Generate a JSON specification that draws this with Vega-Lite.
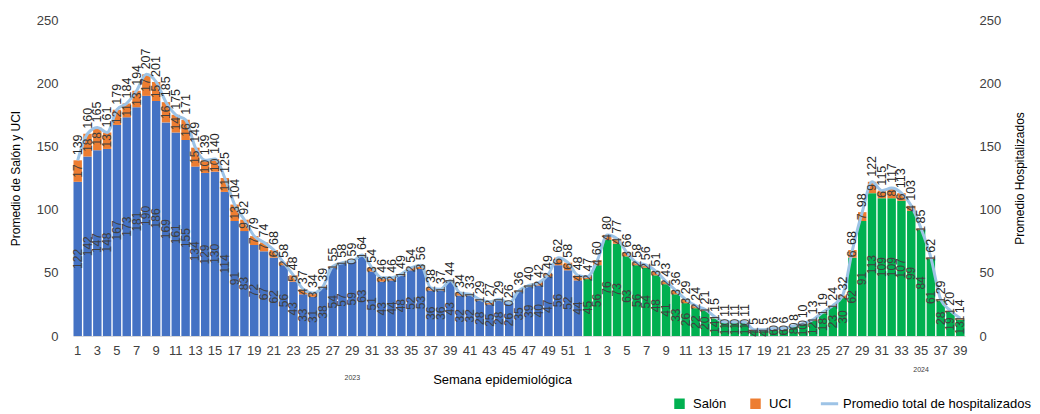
{
  "$schema": "https://vega.github.io/schema/vega-lite/v6.json",
  "width": 892,
  "height": 316,
  "autosize": "none",
  "padding": {"left": 73, "top": 20, "right": 75, "bottom": 78},
  "config": {
    "font": "Liberation Sans",
    "view": {"stroke": null},
    "axis": {"grid": false, "ticks": false, "domain": false, "labelColor": "#404040", "labelFontSize": 13, "titleFontSize": 12, "titleFontWeight": "normal", "titleColor": "#000000"},
    "text": {"font": "Liberation Sans"}
  },
  "data": {"values": [
    {"sem":"2023-01","anio":"2023","salon":122,"uci":17,"total":139},
    {"sem":"2023-02","anio":"2023","salon":142,"uci":18,"total":160},
    {"sem":"2023-03","anio":"2023","salon":147,"uci":18,"total":165},
    {"sem":"2023-04","anio":"2023","salon":148,"uci":13,"total":161},
    {"sem":"2023-05","anio":"2023","salon":167,"uci":12,"total":179},
    {"sem":"2023-06","anio":"2023","salon":173,"uci":11,"total":184},
    {"sem":"2023-07","anio":"2023","salon":181,"uci":13,"total":194},
    {"sem":"2023-08","anio":"2023","salon":190,"uci":17,"total":207},
    {"sem":"2023-09","anio":"2023","salon":186,"uci":15,"total":201},
    {"sem":"2023-10","anio":"2023","salon":169,"uci":16,"total":185},
    {"sem":"2023-11","anio":"2023","salon":161,"uci":14,"total":175},
    {"sem":"2023-12","anio":"2023","salon":155,"uci":16,"total":171},
    {"sem":"2023-13","anio":"2023","salon":134,"uci":15,"total":149},
    {"sem":"2023-14","anio":"2023","salon":129,"uci":10,"total":139},
    {"sem":"2023-15","anio":"2023","salon":130,"uci":10,"total":140},
    {"sem":"2023-16","anio":"2023","salon":114,"uci":11,"total":125},
    {"sem":"2023-17","anio":"2023","salon":91,"uci":13,"total":104},
    {"sem":"2023-18","anio":"2023","salon":83,"uci":9,"total":92},
    {"sem":"2023-19","anio":"2023","salon":72,"uci":7,"total":79},
    {"sem":"2023-20","anio":"2023","salon":67,"uci":7,"total":74},
    {"sem":"2023-21","anio":"2023","salon":62,"uci":6,"total":68},
    {"sem":"2023-22","anio":"2023","salon":56,"uci":2,"total":58},
    {"sem":"2023-23","anio":"2023","salon":43,"uci":5,"total":48},
    {"sem":"2023-24","anio":"2023","salon":33,"uci":4,"total":37},
    {"sem":"2023-25","anio":"2023","salon":31,"uci":3,"total":34},
    {"sem":"2023-26","anio":"2023","salon":38,"uci":1,"total":39},
    {"sem":"2023-27","anio":"2023","salon":54,"uci":1,"total":55},
    {"sem":"2023-28","anio":"2023","salon":57,"uci":1,"total":58},
    {"sem":"2023-29","anio":"2023","salon":59,"uci":0,"total":59},
    {"sem":"2023-30","anio":"2023","salon":63,"uci":1,"total":64},
    {"sem":"2023-31","anio":"2023","salon":51,"uci":3,"total":54},
    {"sem":"2023-32","anio":"2023","salon":43,"uci":3,"total":46},
    {"sem":"2023-33","anio":"2023","salon":44,"uci":2,"total":46},
    {"sem":"2023-34","anio":"2023","salon":48,"uci":1,"total":49},
    {"sem":"2023-35","anio":"2023","salon":52,"uci":2,"total":54},
    {"sem":"2023-36","anio":"2023","salon":53,"uci":3,"total":56},
    {"sem":"2023-37","anio":"2023","salon":36,"uci":2,"total":38},
    {"sem":"2023-38","anio":"2023","salon":36,"uci":1,"total":37},
    {"sem":"2023-39","anio":"2023","salon":43,"uci":1,"total":44},
    {"sem":"2023-40","anio":"2023","salon":32,"uci":2,"total":34},
    {"sem":"2023-41","anio":"2023","salon":32,"uci":1,"total":33},
    {"sem":"2023-42","anio":"2023","salon":28,"uci":1,"total":29},
    {"sem":"2023-43","anio":"2023","salon":25,"uci":2,"total":27},
    {"sem":"2023-44","anio":"2023","salon":28,"uci":1,"total":29},
    {"sem":"2023-45","anio":"2023","salon":26,"uci":0,"total":26},
    {"sem":"2023-46","anio":"2023","salon":35,"uci":1,"total":36},
    {"sem":"2023-47","anio":"2023","salon":39,"uci":1,"total":40},
    {"sem":"2023-48","anio":"2023","salon":40,"uci":2,"total":42},
    {"sem":"2023-49","anio":"2023","salon":47,"uci":2,"total":49},
    {"sem":"2023-50","anio":"2023","salon":56,"uci":6,"total":62},
    {"sem":"2023-51","anio":"2023","salon":52,"uci":6,"total":58},
    {"sem":"2023-52","anio":"2023","salon":44,"uci":4,"total":48},
    {"sem":"2024-01","anio":"2024","salon":45,"uci":2,"total":47},
    {"sem":"2024-02","anio":"2024","salon":56,"uci":4,"total":60},
    {"sem":"2024-03","anio":"2024","salon":76,"uci":4,"total":80},
    {"sem":"2024-04","anio":"2024","salon":73,"uci":4,"total":77},
    {"sem":"2024-05","anio":"2024","salon":63,"uci":3,"total":66},
    {"sem":"2024-06","anio":"2024","salon":56,"uci":2,"total":58},
    {"sem":"2024-07","anio":"2024","salon":54,"uci":2,"total":56},
    {"sem":"2024-08","anio":"2024","salon":48,"uci":3,"total":51},
    {"sem":"2024-09","anio":"2024","salon":41,"uci":2,"total":43},
    {"sem":"2024-10","anio":"2024","salon":33,"uci":3,"total":36},
    {"sem":"2024-11","anio":"2024","salon":26,"uci":3,"total":29},
    {"sem":"2024-12","anio":"2024","salon":22,"uci":2,"total":24},
    {"sem":"2024-13","anio":"2024","salon":20,"uci":1,"total":21},
    {"sem":"2024-14","anio":"2024","salon":14,"uci":1,"total":15},
    {"sem":"2024-15","anio":"2024","salon":11,"uci":0,"total":11},
    {"sem":"2024-16","anio":"2024","salon":11,"uci":0,"total":11},
    {"sem":"2024-17","anio":"2024","salon":11,"uci":0,"total":11},
    {"sem":"2024-18","anio":"2024","salon":4,"uci":1,"total":5},
    {"sem":"2024-19","anio":"2024","salon":4,"uci":1,"total":5},
    {"sem":"2024-20","anio":"2024","salon":6,"uci":0,"total":6},
    {"sem":"2024-21","anio":"2024","salon":6,"uci":0,"total":6},
    {"sem":"2024-22","anio":"2024","salon":8,"uci":0,"total":8},
    {"sem":"2024-23","anio":"2024","salon":10,"uci":0,"total":10},
    {"sem":"2024-24","anio":"2024","salon":12,"uci":1,"total":13},
    {"sem":"2024-25","anio":"2024","salon":18,"uci":1,"total":19},
    {"sem":"2024-26","anio":"2024","salon":23,"uci":1,"total":24},
    {"sem":"2024-27","anio":"2024","salon":30,"uci":2,"total":32},
    {"sem":"2024-28","anio":"2024","salon":62,"uci":6,"total":68},
    {"sem":"2024-29","anio":"2024","salon":91,"uci":7,"total":98},
    {"sem":"2024-30","anio":"2024","salon":113,"uci":9,"total":122},
    {"sem":"2024-31","anio":"2024","salon":109,"uci":6,"total":115},
    {"sem":"2024-32","anio":"2024","salon":109,"uci":8,"total":117},
    {"sem":"2024-33","anio":"2024","salon":107,"uci":6,"total":113},
    {"sem":"2024-34","anio":"2024","salon":99,"uci":4,"total":103},
    {"sem":"2024-35","anio":"2024","salon":84,"uci":1,"total":85},
    {"sem":"2024-36","anio":"2024","salon":61,"uci":1,"total":62},
    {"sem":"2024-37","anio":"2024","salon":28,"uci":1,"total":29},
    {"sem":"2024-38","anio":"2024","salon":19,"uci":1,"total":20},
    {"sem":"2024-39","anio":"2024","salon":13,"uci":1,"total":14}
  ]},
  "layer": [
    {
      "layer": [
        {
          "mark": {"type": "bar"},
          "encoding": {
            "x": {"field": "sem", "type": "ordinal", "sort": "ascending",
              "scale": {"paddingInner": 0.14, "paddingOuter": 0.05},
              "axis": {"title": "Semana epidemiológica", "titleFontSize": 13, "titlePadding": 16, "titleX": 429, "titleAlign": "center", "labelAngle": 0, "labelOverlap": false, "labelPadding": 8, "labelFontSize": 13, "domain": true, "domainColor": "#d9d9d9",
                "labelExpr": "toNumber(slice(datum.value, 5)) % 2 == 1 ? '' + toNumber(slice(datum.value, 5)) : ''"}},
            "y": {"field": "salon", "type": "quantitative", "title": "Promedio de Salón y UCI",
              "scale": {"domain": [0, 250], "nice": false},
              "axis": {"values": [0, 50, 100, 150, 200, 250], "labelPadding": 15, "titlePadding": 14}},
            "fill": {"field": "anio", "type": "nominal", "scale": {"domain": ["2023", "2024"], "range": ["#4472C4", "#00B050"]}, "legend": null}
          }
        },
        {
          "mark": {"type": "bar"},
          "encoding": {
            "x": {"field": "sem", "type": "ordinal", "sort": "ascending"},
            "y": {"field": "total", "type": "quantitative", "title": "Promedio de Salón y UCI"},
            "y2": {"field": "salon"},
            "color": {"datum": "UCI", "type": "nominal",
              "scale": {"domain": ["Salón", "UCI", "Promedio total  de hospitalizados"], "range": ["#00B050", "#ED7D31", "#9DC3E6"]},
              "legend": {"orient": "none", "legendX": 600, "legendY": 377, "direction": "horizontal", "title": null,
                "labelFontSize": 13, "labelColor": "#000000", "labelLimit": 400, "symbolSize": 110, "columnPadding": 22, "labelOffset": 7,
                "symbolType": "square",
                "encode": {"symbols": {"update": {
                  "shape": {"signal": "datum.value == 'Promedio total  de hospitalizados' ? 'stroke' : 'square'"},
                  "size": {"signal": "datum.value == 'Promedio total  de hospitalizados' ? 300 : 110"},
                  "fill": {"signal": "scale('color', datum.value)"},
                  "stroke": {"signal": "scale('color', datum.value)"},
                  "strokeWidth": {"signal": "datum.value == 'Promedio total  de hospitalizados' ? 3 : 0"},
                  "opacity": {"value": 1}
                }}}}}
          }
        }
      ]
    },
    {
      "layer": [
        {
          "mark": {"type": "line", "interpolate": "monotone", "strokeWidth": 3},
          "encoding": {
            "x": {"field": "sem", "type": "ordinal", "sort": "ascending"},
            "y": {"field": "total", "type": "quantitative", "title": "Promedio Hospitalizados",
              "scale": {"domain": [0, 250], "nice": false},
              "axis": {"orient": "right", "values": [0, 50, 100, 150, 200, 250], "labelPadding": 14, "titlePadding": 26, "titleAngle": 270}},
            "color": {"datum": "Promedio total  de hospitalizados", "type": "nominal"}
          }
        },
        {
          "transform": [{"fold": ["salon", "uci"], "as": ["serie", "valor"]}],
          "mark": {"type": "text", "angle": 270, "align": "center", "baseline": "middle", "fontSize": 12, "color": "#404040"},
          "encoding": {
            "x": {"field": "sem", "type": "ordinal", "sort": "ascending"},
            "y": {"field": "valor", "type": "quantitative", "stack": "zero", "bandPosition": 0.5, "title": "Promedio Hospitalizados"},
            "detail": {"field": "serie"},
            "order": {"field": "serie", "sort": "ascending"},
            "text": {"field": "valor", "type": "quantitative"}
          }
        },
        {
          "mark": {"type": "text", "angle": 270, "align": "left", "baseline": "middle", "fontSize": 12.5, "dx": 5, "color": "#262626"},
          "encoding": {
            "x": {"field": "sem", "type": "ordinal", "sort": "ascending"},
            "y": {"field": "total", "type": "quantitative", "title": "Promedio Hospitalizados"},
            "text": {"field": "total", "type": "quantitative"}
          }
        },
        {
          "data": {"values": [{"sem": "2023-29", "anio": "2023"}]},
          "mark": {"type": "text", "fontSize": 7, "color": "#404040", "align": "center", "baseline": "middle"},
          "encoding": {
            "x": {"field": "sem", "type": "ordinal"},
            "y": {"datum": -33, "type": "quantitative"},
            "text": {"field": "anio"}
          }
        },
        {
          "data": {"values": [{"sem": "2024-35", "anio": "2024"}]},
          "mark": {"type": "text", "fontSize": 7, "color": "#404040", "align": "center", "baseline": "middle"},
          "encoding": {
            "x": {"field": "sem", "type": "ordinal"},
            "y": {"datum": -27, "type": "quantitative"},
            "text": {"field": "anio"}
          }
        }
      ]
    }
  ],
  "resolve": {"scale": {"y": "independent"}}
}
